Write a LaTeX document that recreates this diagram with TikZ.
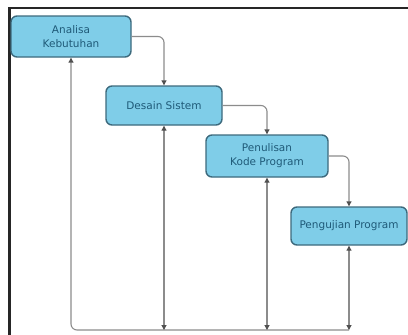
\documentclass[tikz,border=0pt]{standalone}
\usepackage{fontspec}
\setmainfont{DejaVu Sans}
\usetikzlibrary{arrows.meta}
\definecolor{boxfill}{HTML}{7FCDE8}
\definecolor{boxline}{HTML}{3D6A7D}
\definecolor{boxtext}{HTML}{1F5A78}
\definecolor{conn}{HTML}{8C8C8C}
\definecolor{tipc}{HTML}{505050}
\tikzset{
  stage/.style={draw=boxline, line width=1.4pt, fill=boxfill, rounded corners=6pt,
    text=boxtext, font=\fontsize{10.5}{14}\selectfont, align=center, inner sep=0pt},
  flow/.style={draw=conn, line width=1.1pt, rounded corners=6pt},
  tip/.tip={Triangle[width=5pt,length=5pt,color=tipc]},
  frame/.style={line width=2.2pt, draw=black!85}
}
\begin{document}
\begin{tikzpicture}[x=1pt,y=-1pt]
\useasboundingbox (0,0) rectangle (408,335);
\fill[white] (0,0) rectangle (408,335);
\draw[frame] (9.5,335) -- (9.5,8) -- (408,8);

\node[stage, minimum width=120pt, minimum height=41pt] (a1) at (71,36.5) {Analisa\\Kebutuhan};
\node[stage, minimum width=116pt, minimum height=39pt] (a2) at (164,105.5) {Desain Sistem};
\node[stage, minimum width=122pt, minimum height=42pt] (a3) at (267,156) {Penulisan\\Kode Program};
\node[stage, minimum width=116pt, minimum height=38pt] (a4) at (349,226) {Pengujian Program};

\coordinate (b1) at (71,330);
\coordinate (b2) at (164,330);
\coordinate (b3) at (267,330);
\coordinate (b4) at (349,330);

\draw[flow, -tip] (a1.east) -| (a2.north);
\draw[flow, -tip] (a2.east) -| (a3.north);
\draw[flow, -tip] (a3.east) -| (a4.north);

\draw[flow, tip-] (a1.south) -- (b1) -- (b4);
\draw[flow, tip-tip] (a2.south) -- (b2);
\draw[flow, tip-tip] (a3.south) -- (b3);
\draw[flow, tip-tip] (a4.south) -- (b4);
\end{tikzpicture}
\end{document}
